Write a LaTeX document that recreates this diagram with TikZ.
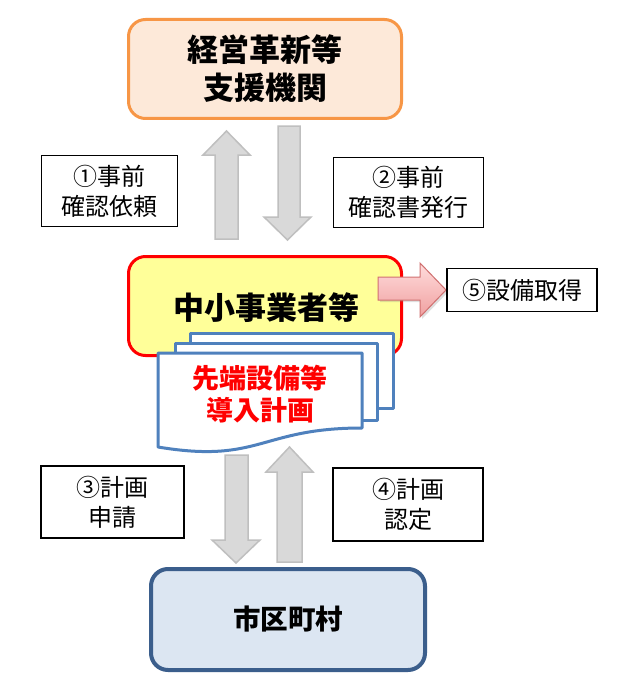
\documentclass[tikz,border=0pt]{standalone}
\usepackage{fontspec}
\setmainfont{Noto Sans CJK JP}
\usetikzlibrary{shadows}
\definecolor{orangeB}{HTML}{F79646}
\definecolor{peach}{HTML}{FDE9D9}
\definecolor{redB}{HTML}{FF0000}
\definecolor{yellowF}{HTML}{FFFF99}
\definecolor{blueB}{HTML}{4F81BD}
\definecolor{navyB}{HTML}{3B5E8C}
\definecolor{lightblue}{HTML}{DCE6F2}
\definecolor{arrowF}{HTML}{D9D9D9}
\definecolor{arrowD}{HTML}{BFBFBF}
\definecolor{pinkT}{HTML}{FFDCDC}
\definecolor{pinkB}{HTML}{F0A0A0}
\definecolor{pinkD}{HTML}{D07070}
\begin{document}
\begin{tikzpicture}[x=1pt,y=-1pt,
  bigbox/.style={line width=3pt, rounded corners=17pt, align=center, inner sep=0pt,
    minimum width=273pt, minimum height=99pt, font=\bfseries\fontsize{31}{38}\selectfont},
  lbl/.style={draw=black, line width=1.1pt, fill=white, align=center, inner sep=0pt,
    font=\fontsize{24}{30}\selectfont},
  blockarrow/.style={fill=arrowF, draw=arrowD, line width=1.5pt},
  page/.style={draw=blueB, fill=white, line width=3pt, line join=round}
]
\useasboundingbox (0,0) rectangle (626,698);
\fill[white] (0,0) rectangle (626,698);

% top box
\node[bigbox, draw=orangeB, fill=peach] (top) at (265,69) {経営革新等\\支援機関};

% arrows between top and middle
\draw[blockarrow] (215,239) -- (215,155) -- (203,155) -- (226.5,131) -- (250,155) -- (238,155) -- (238,239) -- cycle;
\draw[blockarrow] (278,126) -- (278,217) -- (264,217) -- (287.5,240) -- (311,217) -- (300,217) -- (300,126) -- cycle;

% labels
\node[lbl, minimum width=136pt, minimum height=71pt] (l1) at (109.5,191) {①事前\\確認依頼};
\node[lbl, minimum width=150pt, minimum height=70pt] (l2) at (408.5,192.5) {②事前\\確認書発行};

% middle box
\node[bigbox, draw=redB, fill=yellowF] (mid) at (265,306) {};
\node[font=\bfseries\fontsize{31}{38}\selectfont, inner sep=0pt] (midtext) at (266,308) {中小事業者等};

% pink arrow
\draw[draw=pinkD, line width=1pt, top color=pinkT, bottom color=pinkB,
  drop shadow={opacity=0.25, shadow xshift=2pt, shadow yshift=-2pt}]
  (378,277) -- (420,277) -- (420,263) -- (446,290) -- (420,317) -- (420,300) -- (378,300) -- cycle;
\node[lbl, minimum width=150pt, minimum height=43pt] (l5) at (522,290) {⑤設備取得};

% document stack
\draw[page] (190,333) rectangle (393,408);
\draw[page] (175,343) rectangle (377,420);
\draw[page] (158,353) -- (362,353) -- (362,428) .. controls (260,428) and (260,464) .. (158,447) -- cycle;
\node[align=center, text=redB, inner sep=0pt, font=\bfseries\fontsize{27}{32}\selectfont] (doc) at (260,394) {先端設備等\\導入計画};

% arrows between middle and bottom
\draw[blockarrow] (225,455) -- (225,540) -- (212,540) -- (236,563) -- (260,540) -- (248,540) -- (248,455) -- cycle;
\draw[blockarrow] (277,562) -- (277,472) -- (266,472) -- (289.5,447) -- (313,472) -- (302,472) -- (302,562) -- cycle;

\node[lbl, minimum width=143pt, minimum height=72pt] (l3) at (112.5,502) {③計画\\申請};
\node[lbl, minimum width=150pt, minimum height=73pt] (l4) at (408,504.5) {④計画\\認定};

% bottom box
\node[bigbox, draw=navyB, fill=lightblue, line width=4pt, minimum width=274pt, minimum height=101pt, font=\bfseries\fontsize{27.5}{33}\selectfont] (bot) at (288,619.5) {市区町村};
\end{tikzpicture}
\end{document}
